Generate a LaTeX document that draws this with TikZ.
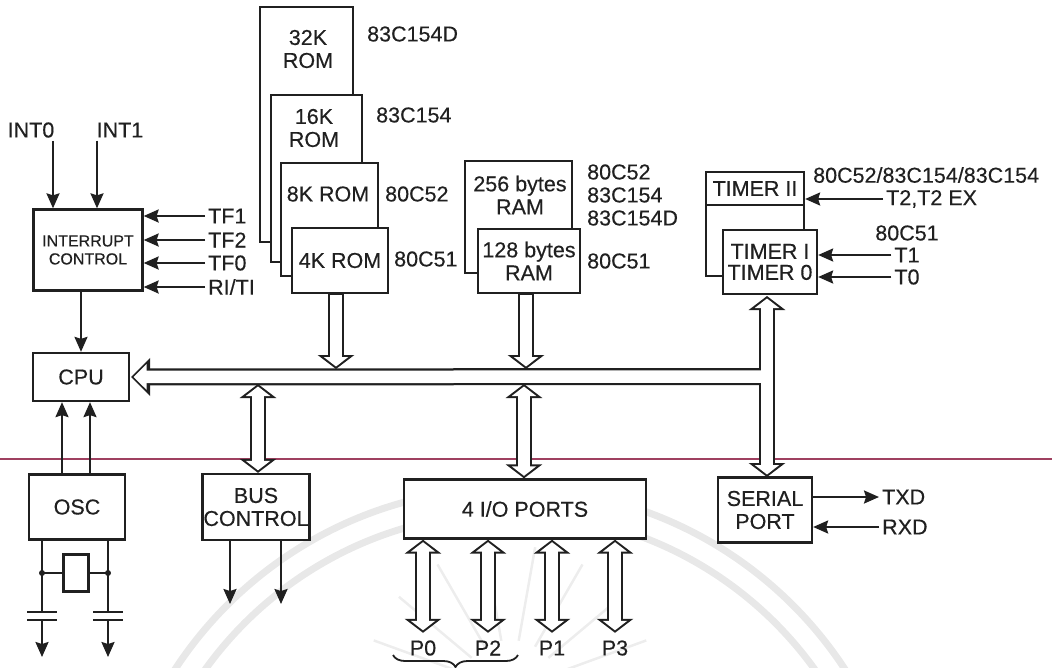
\documentclass[tikz,border=0pt]{standalone}
\usepackage{fontspec}
\setmainfont{Liberation Sans}[FakeBold=0.35]
\usetikzlibrary{arrows.meta,decorations.pathreplacing}
\definecolor{ink}{HTML}{202020}

\begin{document}
\begin{tikzpicture}[
  x=1pt,y=-1pt,
  font=\fontsize{21.5}{23}\selectfont,
  color=ink,
  box/.style={draw=ink,fill=white,line width=2.3pt,inner sep=0pt,align=center},
  lbl/.style={inner sep=3pt,align=center},
  portlbl/.style={inner sep=0pt,minimum height=30pt},
  arrow/.style={line width=2.3pt,-{Stealth[length=15pt,width=13pt,inset=2pt]}},
  wire/.style={line width=2.3pt},
  busdown/.style={line width=16.5pt,-{Triangle[length=14pt,width=36pt]},
    postaction={draw=white,line width=12pt,shorten <=1pt,shorten >=2.5pt,-{Triangle[length=9.5pt,width=24pt]}}},
  busboth/.style={line width=16.5pt,{Triangle[length=14pt,width=36pt]}-{Triangle[length=14pt,width=36pt]},
    postaction={draw=white,line width=12pt,shorten <=2.5pt,shorten >=2.5pt,{Triangle[length=9.5pt,width=24pt]}-{Triangle[length=9.5pt,width=24pt]}}},
  busmain/.style={line width=17pt,shorten >=1pt,-{Triangle[length=19pt,width=37pt]},
    postaction={draw=white,line width=12.5pt,shorten <=-8pt,shorten >=3.5pt,-{Triangle[length=13pt,width=25pt]}}},
  wmark/.style={draw=black!9,line width=7pt},
  wray/.style={draw=black!7,line width=2.5pt},
]
\useasboundingbox (0,0) rectangle (1052,667);

\draw[wmark] (510,888) circle[radius=400pt];
\draw[wmark] (510,888) circle[radius=375pt];
\foreach \ang in {20,40,60,80,100,120,140,160}
  \draw[wray] (510,690) ++(\ang:50pt) -- ++(\ang:95pt);
\draw[draw=purple!50!gray,line width=1.5pt] (0,459) -- (1052,459);

\node[box,minimum width=96pt,minimum height=65pt] (osc) at (77,507) {OSC};
\node[box,minimum width=96pt,minimum height=48pt] (cpu) at (81,377) {CPU};
\node[box,minimum width=109pt,minimum height=81pt,font=\fontsize{16}{18}\selectfont] (intctl) at (88,250) {INTERRUPT\\CONTROL};
\node[box,minimum width=107pt,minimum height=66pt] (busctl) at (256,507) {BUS\\CONTROL};
\node[box,minimum width=242pt,minimum height=59pt] (io) at (525,509) {4 I/O PORTS};
\node[box,minimum width=94pt,minimum height=65pt] (serial) at (765,510) {SERIAL\\PORT};

\node[box,minimum width=93pt,minimum height=235pt] (rom32) at (306.5,124.5) {};
\node[box,minimum width=91pt,minimum height=167pt] (rom16) at (316.5,178.5) {};
\node[box,minimum width=97pt,minimum height=113pt] (rom8) at (329.5,219.5) {};
\node[box,minimum width=96pt,minimum height=65pt] (rom4) at (340,260.5) {4K ROM};
\node[lbl] (rom32txt) at (308,49) {32K\\ROM};
\node[lbl] (rom16txt) at (314,128) {16K\\ROM};
\node[lbl] (rom8txt) at (328,194) {8K ROM};

\node[box,minimum width=107pt,minimum height=112pt] (ram256) at (518.5,217) {};
\node[box,minimum width=102pt,minimum height=64pt] (ram128) at (529,261) {128 bytes\\RAM};
\node[lbl] (ram256txt) at (520,195) {256 bytes\\RAM};

\node[box,minimum width=98pt,minimum height=104pt] (timerback) at (755,224) {};
\node[box,minimum width=98pt,minimum height=33pt] (timer2) at (755,188.5) {TIMER II};
\node[box,minimum width=94pt,minimum height=64pt,font=\fontsize{21.5}{21}\selectfont] (timer1) at (770,262) {TIMER I\\TIMER 0};

\node[box,minimum width=25pt,minimum height=37pt,line width=3.5pt] (xtal) at (76,573) {};

\node[lbl] (int0) at (31,130) {INT0};
\node[lbl] (int1) at (120,130) {INT1};
\node[lbl,anchor=west] (tf1) at (205,216) {TF1};
\node[lbl,anchor=west] (tf2) at (205,240) {TF2};
\node[lbl,anchor=west] (tf0) at (205,263) {TF0};
\node[lbl,anchor=west] (riti) at (205,287) {RI/TI};

\node[lbl,anchor=west] (d154d) at (364,34) {83C154D};
\node[lbl,anchor=west] (d154) at (373,115) {83C154};
\node[lbl,anchor=west] (d52) at (382,194) {80C52};
\node[lbl,anchor=west] (d51) at (391,259) {80C51};
\node[lbl,anchor=west] (r52) at (584,172) {80C52};
\node[lbl,anchor=west] (r154) at (584,195) {83C154};
\node[lbl,anchor=west] (r154d) at (584,218) {83C154D};
\node[lbl,anchor=west] (r51) at (584,261) {80C51};

\node[lbl,anchor=west] (t52) at (810,175) {80C52/83C154/83C154};
\node[lbl,anchor=west] (t2) at (883,199) {T2,T2 EX};
\node[lbl] (t51) at (907,233) {80C51};
\node[lbl] (t1) at (907,255) {T1};
\node[lbl] (t0) at (907,277) {T0};
\node[lbl,anchor=west] (txd) at (879,497) {TXD};
\node[lbl,anchor=west] (rxd) at (879,527) {RXD};

\node[portlbl] (p0) at (423,648) {P0};
\node[portlbl] (p2) at (488,648) {P2};
\node[portlbl] (p1) at (552,648) {P1};
\node[portlbl] (p3) at (615,648) {P3};

\coordinate (busend) at (760,376.5);
\coordinate (romjoin) at (336,369);
\coordinate (ramjoin) at (526,369);
\coordinate (ctljoin) at (258,384);
\coordinate (iojoin) at (524,384);
\coordinate (sertop) at (767,296);
\coordinate (serbot) at (767,477);
\coordinate (clkl) at (62,0);
\coordinate (clkr) at (90,0);
\coordinate (capl) at (42,612);
\coordinate (capr) at (108,612);
\coordinate (capltwo) at (42,620);
\coordinate (caprtwo) at (108,620);
\coordinate (gndl) at (42,657);
\coordinate (gndr) at (108,657);
\coordinate (ctll) at (230,604);
\coordinate (ctlr) at (281,604);
\coordinate (bracel) at (393,655);
\coordinate (bracer) at (518,655);

\draw[busboth] (sertop) -- (serbot);
\draw[busmain] (busend) -- (cpu.east);
\draw[busdown] (romjoin |- rom4.south) -- (romjoin);
\draw[busdown] (ramjoin |- ram128.south) -- (ramjoin);
\draw[busboth] (ctljoin) -- (ctljoin |- busctl.north);
\draw[busboth] (iojoin) -- (iojoin |- io.north);
\draw[busboth] (p0.north) -- (p0.north |- io.south);
\draw[busboth] (p2.north) -- (p2.north |- io.south);
\draw[busboth] (p1.north) -- (p1.north |- io.south);
\draw[busboth] (p3.north) -- (p3.north |- io.south);

\draw[arrow] ([xshift=22pt]int0.south) -- ([xshift=22pt]int0.south |- intctl.north);
\draw[arrow] ([xshift=-23pt]int1.south) -- ([xshift=-23pt]int1.south |- intctl.north);
\draw[arrow] (tf1.west) -- (tf1.west -| intctl.east);
\draw[arrow] (tf2.west) -- (tf2.west -| intctl.east);
\draw[arrow] (tf0.west) -- (tf0.west -| intctl.east);
\draw[arrow] (riti.west) -- (riti.west -| intctl.east);
\draw[arrow] (cpu.north |- intctl.south) -- (cpu.north);
\draw[arrow] (clkl |- osc.north) -- (clkl |- cpu.south);
\draw[arrow] (clkr |- osc.north) -- (clkr |- cpu.south);

\draw[arrow] (ctll |- busctl.south) -- (ctll);
\draw[arrow] (ctlr |- busctl.south) -- (ctlr);
\draw[arrow] (t2.west) -- (t2.west -| timer2.east);
\draw[arrow] (t1.west) -- (t1.west -| timer1.east);
\draw[arrow] (t0.west) -- (t0.west -| timer1.east);
\draw[arrow] (serial.east |- txd) -- (txd.west);
\draw[arrow] (rxd.west) -- (rxd.west -| serial.east);

\draw[wire] (capl |- osc.south) -- (capl);
\draw[wire] (capr |- osc.south) -- (capr);
\draw[wire] ([xshift=-15pt]capl) -- ([xshift=15pt]capl);
\draw[wire] ([xshift=-15pt]capr) -- ([xshift=15pt]capr);
\draw[wire] ([xshift=-15pt]capltwo) -- ([xshift=15pt]capltwo);
\draw[wire] ([xshift=-15pt]caprtwo) -- ([xshift=15pt]caprtwo);
\draw[arrow] (capltwo) -- (gndl);
\draw[arrow] (caprtwo) -- (gndr);
\draw[wire] (capl |- xtal.west) -- (xtal.west);
\draw[wire] (xtal.east) -- (capr |- xtal.east);
\fill (capl |- xtal.west) circle[radius=3pt];
\fill (capr |- xtal.east) circle[radius=3pt];

\draw[wire,line width=1.8pt,decorate,decoration={brace,mirror,amplitude=12pt}] (bracel) -- (bracer);

\end{tikzpicture}
\end{document}
